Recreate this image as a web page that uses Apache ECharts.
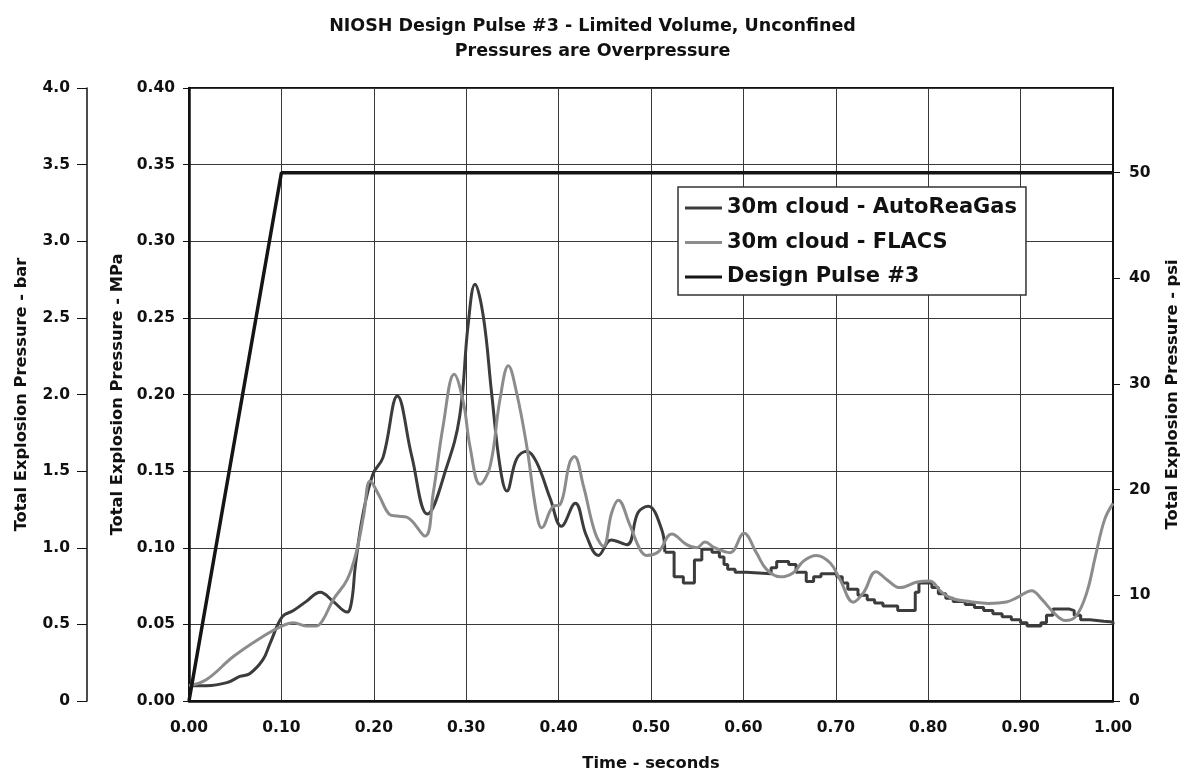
<!DOCTYPE html>
<html>
<head>
<meta charset="utf-8">
<script src="https://cdn.jsdelivr.net/npm/echarts/dist/echarts.min.js"></script>
<style>
  html, body { margin: 0; padding: 0; background: #ffffff; }
  #chart { width: 1185px; height: 777px; }
</style>
</head>
<body>
<div id="chart"></div>
<script>
// ---- Data (time in seconds, pressure in MPa) ----
const titleLines = ['NIOSH Design Pulse #3 - Limited Volume, Unconfined', 'Pressures are Overpressure'];
const seriesNames = ['30m cloud - AutoReaGas', '30m cloud - FLACS', 'Design Pulse #3'];

// AutoReaGas: smooth early part
const autoReaGasSmooth = [
  [0.000, 0.010], [0.019, 0.010], [0.041, 0.012], [0.055, 0.016], [0.066, 0.018],
  [0.080, 0.027], [0.088, 0.038], [0.101, 0.055], [0.113, 0.059], [0.127, 0.065],
  [0.142, 0.071], [0.156, 0.065], [0.171, 0.058], [0.176, 0.065], [0.180, 0.088],
  [0.188, 0.121], [0.199, 0.148], [0.210, 0.159], [0.2255, 0.199], [0.241, 0.160],
  [0.258, 0.122], [0.279, 0.153], [0.293, 0.186], [0.302, 0.245], [0.3095, 0.272],
  [0.3185, 0.251], [0.3275, 0.201], [0.3366, 0.153], [0.344, 0.137], [0.3546, 0.158],
  [0.3655, 0.163], [0.376, 0.156], [0.391, 0.132], [0.403, 0.114], [0.418, 0.129],
  [0.430, 0.108], [0.443, 0.095], [0.457, 0.105], [0.474, 0.102], [0.486, 0.123],
  [0.497, 0.127], [0.5115, 0.112], [0.515, 0.097]
];

// AutoReaGas: later stepped part (value holds until next time)
const autoReaGasSteps = [
  [0.515, 0.097], [0.525, 0.081], [0.535, 0.077], [0.547, 0.092], [0.555, 0.099],
  [0.566, 0.097], [0.574, 0.094], [0.579, 0.089], [0.583, 0.086], [0.591, 0.084],
  [0.603, 0.083], [0.630, 0.087], [0.636, 0.091], [0.649, 0.089], [0.657, 0.084],
  [0.668, 0.078], [0.676, 0.081], [0.684, 0.083], [0.701, 0.081], [0.707, 0.077],
  [0.713, 0.073], [0.724, 0.069], [0.734, 0.066], [0.742, 0.064], [0.751, 0.062],
  [0.767, 0.059], [0.786, 0.071], [0.790, 0.077], [0.804, 0.074], [0.811, 0.070],
  [0.819, 0.067], [0.827, 0.065], [0.840, 0.063], [0.850, 0.061], [0.860, 0.059],
  [0.870, 0.057], [0.880, 0.055], [0.890, 0.053], [0.900, 0.051], [0.907, 0.049],
  [0.922, 0.051], [0.928, 0.056], [0.935, 0.060], [0.953, 0.059], [0.958, 0.056],
  [0.965, 0.053], [0.975, 0.052], [0.990, 0.0515], [1.000, 0.050]
];

const flacs = [
  [0.000, 0.010], [0.019, 0.014], [0.048, 0.029], [0.077, 0.041], [0.101, 0.049],
  [0.113, 0.051], [0.127, 0.049], [0.138, 0.049], [0.145, 0.053], [0.156, 0.066],
  [0.171, 0.079], [0.181, 0.097], [0.189, 0.121], [0.196, 0.1435], [0.2058, 0.134],
  [0.217, 0.1218], [0.2248, 0.1207], [0.2356, 0.120], [0.2554, 0.1076], [0.2644, 0.136],
  [0.275, 0.1795], [0.287, 0.2132], [0.297, 0.1947], [0.304, 0.1664], [0.315, 0.1414],
  [0.3258, 0.153], [0.3366, 0.197], [0.3456, 0.2187], [0.3546, 0.201], [0.3655, 0.1664],
  [0.376, 0.123], [0.3817, 0.113], [0.394, 0.127], [0.4015, 0.128], [0.412, 0.1555],
  [0.417, 0.1595], [0.427, 0.140], [0.4394, 0.110], [0.4484, 0.101], [0.4575, 0.123],
  [0.4646, 0.131], [0.477, 0.115], [0.488, 0.099], [0.495, 0.095], [0.508, 0.0974],
  [0.5224, 0.109], [0.5386, 0.102], [0.5495, 0.100], [0.5584, 0.1037], [0.569, 0.100],
  [0.5855, 0.0968], [0.6006, 0.1094], [0.614, 0.0968], [0.625, 0.0859], [0.640, 0.081],
  [0.654, 0.0837], [0.665, 0.0913], [0.679, 0.095], [0.694, 0.090], [0.7045, 0.0793],
  [0.719, 0.0645], [0.730, 0.0707], [0.7435, 0.0844], [0.755, 0.0793], [0.7695, 0.074],
  [0.788, 0.0776], [0.8015, 0.0783], [0.815, 0.0707], [0.8267, 0.0667], [0.846, 0.0648],
  [0.865, 0.0637], [0.8846, 0.0646], [0.896, 0.0674], [0.912, 0.0720], [0.923, 0.0663],
  [0.935, 0.0582], [0.9485, 0.0525], [0.960, 0.0554], [0.9716, 0.0707], [0.981, 0.0946],
  [0.991, 0.1185], [1.000, 0.129]
];

const designPulse = [[0.0, 0.0], [0.1, 0.34474], [1.0, 0.34474]];

// Axis ranges
const xRange = { min: 0, max: 1, interval: 0.1 };
const mpaRange = { min: 0, max: 0.4, interval: 0.05 };
const barRange = { min: 0, max: 4, interval: 0.5 };
const psiRange = { min: 0, max: 0.4 * 145.0377, interval: 10 };
const axisNames = {
  x: 'Time - seconds',
  mpa: 'Total Explosion Pressure - MPa',
  bar: 'Total Explosion Pressure - bar',
  psi: 'Total Explosion Pressure - psi'
};

// ---- Chart ----
const FONT = 'DejaVu Sans';
const chart = echarts.init(document.getElementById('chart'), null, { renderer: 'canvas' });

const labelStyle = { fontFamily: FONT, fontWeight: 'bold', fontSize: 15.5, color: '#111' };
const nameStyle = { fontFamily: FONT, fontWeight: 'bold', fontSize: 16.3, color: '#111' };

chart.setOption({
  backgroundColor: '#ffffff',
  animation: false,
  title: {
    text: titleLines.join('\n'),
    left: 'center',
    top: 9,
    textStyle: { fontFamily: FONT, fontWeight: 'bold', fontSize: 17.5, lineHeight: 25, color: '#111' }
  },
  legend: {
    data: seriesNames,
    orient: 'vertical',
    left: 678,
    top: 187,
    padding: [10, 9, 7, 7],
    icon: 'rect',
    itemWidth: 37,
    itemHeight: 3,
    itemGap: 12.5,
    backgroundColor: '#ffffff',
    borderColor: '#333',
    borderWidth: 1.5,
    borderRadius: 0,
    textStyle: { fontFamily: FONT, fontWeight: 'bold', fontSize: 21, lineHeight: 22, color: '#111' }
  },
  grid: {
    left: 189, right: 72, top: 88, bottom: 76,
    containLabel: false,
    outerBoundsMode: 'none',
    show: true, borderColor: '#111', borderWidth: 2, backgroundColor: 'transparent'
  },
  xAxis: {
    type: 'value',
    min: xRange.min, max: xRange.max, interval: xRange.interval,
    name: axisNames.x,
    nameLocation: 'middle',
    nameGap: 55,
    nameTextStyle: nameStyle,
    axisLine: { show: true, onZero: false, lineStyle: { color: '#111', width: 2.5 } },
    axisTick: { show: false },
    axisLabel: Object.assign({ margin: 19, formatter: v => v.toFixed(2) }, labelStyle),
    splitLine: { show: true, lineStyle: { color: '#3a3a3a', width: 1 } }
  },
  yAxis: [
    {
      type: 'value', position: 'left',
      min: mpaRange.min, max: mpaRange.max, interval: mpaRange.interval,
      name: axisNames.mpa,
      nameLocation: 'middle',
      nameGap: 62,
      nameTextStyle: nameStyle,
      axisLine: { show: true, lineStyle: { color: '#111', width: 2.5 } },
      axisTick: { show: true, inside: false, length: 6, lineStyle: { color: '#111', width: 1 } },
      axisLabel: Object.assign({ margin: 14, formatter: v => v.toFixed(2) }, labelStyle),
      splitLine: { show: true, lineStyle: { color: '#3a3a3a', width: 1 } }
    },
    {
      type: 'value', position: 'left', offset: 102,
      min: barRange.min, max: barRange.max, interval: barRange.interval,
      name: axisNames.bar,
      nameLocation: 'middle',
      nameGap: 57,
      nameTextStyle: nameStyle,
      axisLine: { show: true, lineStyle: { color: '#111', width: 1.5 } },
      axisTick: { show: true, inside: false, length: 10, lineStyle: { color: '#111', width: 1 } },
      axisLabel: Object.assign({ margin: 17, formatter: v => (v === 0 ? '0' : v.toFixed(1)) }, labelStyle),
      splitLine: { show: false }
    },
    {
      type: 'value', position: 'right',
      min: psiRange.min, max: psiRange.max, interval: psiRange.interval,
      name: axisNames.psi,
      nameLocation: 'middle',
      nameGap: 52,
      nameRotate: 90,
      nameTextStyle: nameStyle,
      axisLine: { show: true, lineStyle: { color: '#111', width: 2 } },
      axisTick: { show: true, inside: false, length: 7, lineStyle: { color: '#111', width: 1 } },
      axisLabel: Object.assign({ margin: 16, showMaxLabel: false, formatter: v => String(Math.round(v)) }, labelStyle),
      splitLine: { show: false }
    }
  ],
  series: [
    {
      name: seriesNames[0], type: 'line', yAxisIndex: 0,
      data: autoReaGasSmooth, smooth: 0.4, symbol: 'none',
      lineStyle: { color: '#3c3c3c', width: 3 }, itemStyle: { color: '#3c3c3c' }, z: 3
    },
    {
      name: seriesNames[0], type: 'line', yAxisIndex: 0,
      data: autoReaGasSteps, step: 'end', symbol: 'none',
      lineStyle: { color: '#3c3c3c', width: 3 }, itemStyle: { color: '#3c3c3c' }, z: 3
    },
    {
      name: seriesNames[1], type: 'line', yAxisIndex: 0,
      data: flacs, smooth: 0.4, symbol: 'none',
      lineStyle: { color: '#8c8c8c', width: 3 }, itemStyle: { color: '#8c8c8c' }, z: 4
    },
    {
      name: seriesNames[2], type: 'line', yAxisIndex: 0,
      data: designPulse, symbol: 'none',
      lineStyle: { color: '#151515', width: 3.5 }, itemStyle: { color: '#151515' }, z: 5
    }
  ]
});
</script>
</body>
</html>
